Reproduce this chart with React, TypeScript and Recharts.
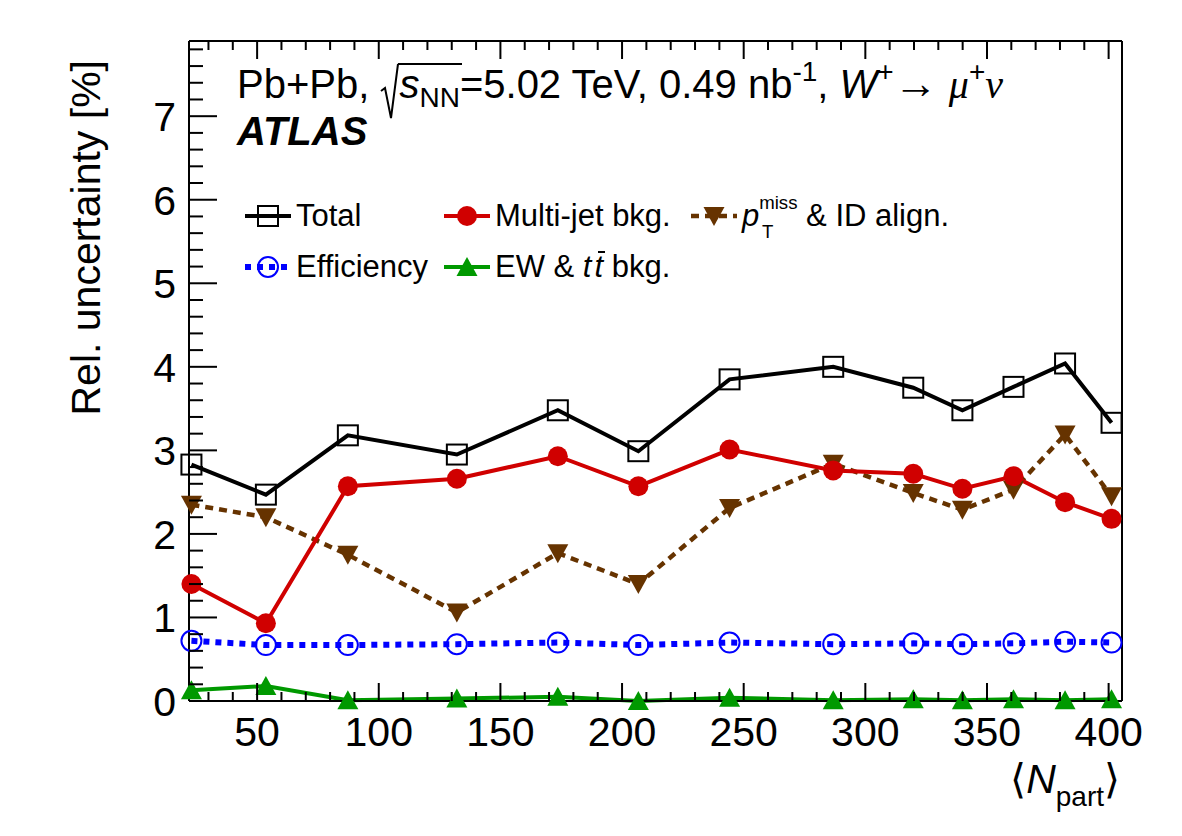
import React from "react";
import { Customized, Legend, Line, LineChart, XAxis, YAxis } from "recharts";

const FONT = '"Liberation Sans", Arial, Helvetica, sans-serif';

// <N_part> per centrality bin
const nPart = [23.0, 53.6, 87.3, 132.1, 173.6, 206.7, 244.2, 286.8, 319.7, 339.9, 360.9, 382.1, 401.2];

// relative uncertainties [%]
const totalUnc = [2.83, 2.47, 3.18, 2.95, 3.48, 2.99, 3.85, 4.0, 3.75, 3.48, 3.76, 4.04, 3.33];
const multiJetUnc = [1.4, 0.93, 2.57, 2.66, 2.93, 2.57, 3.01, 2.76, 2.72, 2.54, 2.69, 2.38, 2.18];
const ptMissUnc = [2.35, 2.2, 1.75, 1.06, 1.77, 1.4, 2.31, 2.84, 2.49, 2.29, 2.53, 3.19, 2.45];
const effUnc = [0.72, 0.67, 0.67, 0.68, 0.7, 0.67, 0.7, 0.68, 0.69, 0.68, 0.69, 0.71, 0.7];
const ewTtbarUnc = [0.13, 0.18, 0.01, 0.03, 0.05, 0.0, 0.04, 0.01, 0.02, 0.01, 0.02, 0.01, 0.02];

const xMajorTicks = [50, 100, 150, 200, 250, 300, 350, 400];
const yMajorTicks = [0, 1, 2, 3, 4, 5, 6, 7];
const X_DOMAIN: [number, number] = [22, 405.5];
const Y_DOMAIN: [number, number] = [0, 7.9];

// minor divisions: 10 on x, 0.2 on y
const xTicks: number[] = [];
for (let v = 30; v <= 400; v += 10) xTicks.push(v);
const yTicks: number[] = [];
for (let i = 0; i <= 39; i++) yTicks.push(Math.round(i * 2) / 10);

const data = nPart.map((n, i) => ({
  n,
  total: totalUnc[i],
  multijet: multiJetUnc[i],
  ptmiss: ptMissUnc[i],
  eff: effUnc[i],
  ew: ewTtbarUnc[i],
}));

const RED = "#d00000";
const BROWN = "#663300";
const BLUE = "#0000ff";
const GREEN = "#009900";

type Pt = { cx: number; cy: number };

const openSquare = ({ cx, cy }: Pt) => (
  <rect x={cx - 10} y={cy - 10} width={20} height={20} fill="none" stroke="#000" strokeWidth={2} />
);
const fullCircle = ({ cx, cy }: Pt) => <circle cx={cx} cy={cy} r={10} fill={RED} />;
const downTriangle = ({ cx, cy }: Pt) => (
  <polygon points={`${cx - 10.5},${cy - 9} ${cx + 10.5},${cy - 9} ${cx},${cy + 10}`} fill={BROWN} />
);
const openCircle = ({ cx, cy }: Pt) => (
  <circle cx={cx} cy={cy} r={10} fill="none" stroke={BLUE} strokeWidth={2} />
);
const upTriangle = ({ cx, cy }: Pt) => (
  <polygon points={`${cx - 10.5},${cy + 9} ${cx + 10.5},${cy + 9} ${cx},${cy - 10}`} fill={GREEN} />
);

const series = [
  { key: "ew", color: GREEN, width: 4, dash: undefined, marker: upTriangle },
  { key: "eff", color: BLUE, width: 6, dash: "6 6", marker: openCircle },
  { key: "ptmiss", color: BROWN, width: 4.5, dash: "8 6", marker: downTriangle },
  { key: "multijet", color: RED, width: 4, dash: undefined, marker: fullCircle },
  { key: "total", color: "#000", width: 4, dash: undefined, marker: openSquare },
];
const seriesByKey = Object.fromEntries(series.map((s) => [s.key, s]));

const isMajor = (v: number, step: number) => Math.abs(v / step - Math.round(v / step)) < 1e-6;

function XTick(props: any) {
  const { x, y, payload, side } = props;
  const v = payload.value as number;
  const major = isMajor(v, 50);
  const len = major ? 18 : 9;
  const dir = side === "bottom" ? -1 : 1;
  return (
    <g>
      <line x1={x} x2={x} y1={y} y2={y + dir * len} stroke="#000" strokeWidth={2} />
      {side === "bottom" && major && (
        <text x={x} y={y + 45} textAnchor="middle" fontSize={41} fontFamily={FONT} fill="#000">
          {v}
        </text>
      )}
    </g>
  );
}

function YTick(props: any) {
  const { x, y, payload, side } = props;
  const v = payload.value as number;
  const major = isMajor(v, 1);
  const len = major ? 28 : 14;
  const dir = side === "left" ? 1 : -1;
  return (
    <g>
      <line x1={x} x2={x + dir * len} y1={y} y2={y} stroke="#000" strokeWidth={2} />
      {side === "left" && major && (
        <text x={x - 13} y={y + 15} textAnchor="end" fontSize={41} fontFamily={FONT} fill="#000">
          {Math.round(v)}
        </text>
      )}
    </g>
  );
}

function AxisTitles() {
  return (
    <g fontFamily={FONT} fill="#000">
      <text transform="translate(100, 60) rotate(-90)" textAnchor="end" fontSize={41}>
        Rel. uncertainty [%]
      </text>
      <text x={1120} y={793} textAnchor="end" fontSize={41}>
        ⟨<tspan fontStyle="italic">N</tspan>
        <tspan fontSize={28} dy={13}>part</tspan>
        <tspan dy={-13}>⟩</tspan>
      </text>
    </g>
  );
}

const legendCols = [244, 443, 690];
const legendRows = [216, 267];

const small = { fontSize: "0.6em" };

const legendItems = [
  { key: "total", col: 0, row: 0, label: <>Total</> },
  { key: "multijet", col: 1, row: 0, label: <>Multi-jet bkg.</> },
  {
    key: "ptmiss",
    col: 2,
    row: 0,
    label: (
      <>
        <i>p</i>
        <span style={{ position: "relative", ...small }}>
          <span style={{ position: "relative", top: "-0.9em" }}>miss</span>
          <span style={{ position: "absolute", left: "0.15em", top: "0.65em" }}>T</span>
        </span>{" "}
        &amp; ID align.
      </>
    ),
  },
  { key: "eff", col: 0, row: 1, label: <>Efficiency</> },
  {
    key: "ew",
    col: 1,
    row: 1,
    label: (
      <>
        EW &amp; <i>t</i>
        <span style={{ position: "relative", marginLeft: 3 }}>
          <i>t</i>
          <span
            style={{
              position: "absolute",
              left: "0.12em",
              right: "-0.06em",
              top: "0.08em",
              borderTop: "2px solid #000",
            }}
          />
        </span>{" "}
        bkg.
      </>
    ),
  },
];

function LegendSample({ k }: { k: string }) {
  const s = seriesByKey[k];
  return (
    <svg width={48} height={30} style={{ overflow: "visible", flex: "none" }}>
      <line x1={1} x2={47} y1={15} y2={15} stroke={s.color} strokeWidth={s.width} strokeDasharray={s.dash} />
      {s.marker({ cx: 24, cy: 15 })}
    </svg>
  );
}

function LegendBlock() {
  return (
    <div style={{ position: "relative", fontFamily: FONT, fontSize: 31, color: "#000" }}>
      {legendItems.map((it) => (
        <div
          key={it.key}
          style={{
            position: "absolute",
            left: legendCols[it.col],
            top: legendRows[it.row] - 20,
            height: 40,
            display: "flex",
            alignItems: "center",
            whiteSpace: "nowrap",
          }}
        >
          <LegendSample k={it.key} />
          <span style={{ marginLeft: 4 }}>{it.label}</span>
        </div>
      ))}
    </div>
  );
}

const sup = { fontSize: "0.7em", position: "relative" as const, top: "-0.6em" };
const sub = { fontSize: "0.7em", position: "relative" as const, top: "0.3em" };

function Header() {
  const F = 40;
  return (
    <>
      <div
        style={{
          position: "absolute",
          left: 237,
          top: 95 - 0.8465 * F,
          fontSize: F,
          lineHeight: 1,
          fontFamily: FONT,
          whiteSpace: "nowrap",
          color: "#000",
        }}
      >
        Pb+Pb,{" "}
        <span style={{ position: "relative", paddingLeft: 19 }}>
          <svg
            width={20}
            height={60}
            style={{ position: "absolute", left: 0, top: 2, overflow: "visible" }}
          >
            <polyline points="1,27 5,24 11,54 18,0" fill="none" stroke="#000" strokeWidth={2} />
          </svg>
          <span
            style={{ position: "absolute", left: 18, right: -2, top: 1, borderTop: "2px solid #000" }}
          />
          <i>s</i>
          <span style={sub}>NN</span>
        </span>
        =5.02 TeV, 0.49 nb<span style={sup}>-1</span>, <i>W</i>
        <span style={sup}>+</span>
        <span style={{ fontSize: "1.1em" }}>→</span>{" "}
        <i style={{ fontFamily: '"Liberation Serif", serif' }}>μ</i>
        <span style={sup}>+</span>
        <i style={{ fontFamily: '"Liberation Serif", serif' }}>ν</i>
      </div>
      <div
        style={{
          position: "absolute",
          left: 237,
          top: 145 - 0.8465 * F,
          fontSize: F,
          lineHeight: 1,
          fontFamily: FONT,
          fontWeight: "bold",
          fontStyle: "italic",
          color: "#000",
        }}
      >
        ATLAS
      </div>
    </>
  );
}

export default function App() {
  return (
    <div style={{ position: "absolute", left: 0, top: 0, width: 1182, height: 836, background: "#fff" }}>
      <LineChart width={1182} height={836} data={data} margin={{ top: 31, right: 50, bottom: 75, left: 89 }}>
        <XAxis
          xAxisId="b"
          dataKey="n"
          type="number"
          domain={X_DOMAIN}
          ticks={xTicks}
          interval={0}
          tickSize={0}
          tickMargin={0}
          tickLine={false}
          axisLine={{ stroke: "#000", strokeWidth: 2 }}
          tick={<XTick side="bottom" />}
          height={60}
        />
        <XAxis
          xAxisId="t"
          orientation="top"
          dataKey="n"
          type="number"
          domain={X_DOMAIN}
          ticks={xTicks}
          interval={0}
          tickSize={0}
          tickMargin={0}
          tickLine={false}
          axisLine={{ stroke: "#000", strokeWidth: 2 }}
          tick={<XTick side="top" />}
          height={10}
        />
        <YAxis
          yAxisId="l"
          type="number"
          domain={Y_DOMAIN}
          ticks={yTicks}
          interval={0}
          tickSize={0}
          tickMargin={0}
          tickLine={false}
          axisLine={{ stroke: "#000", strokeWidth: 2 }}
          tick={<YTick side="left" />}
          width={100}
        />
        <YAxis
          yAxisId="r"
          orientation="right"
          type="number"
          domain={Y_DOMAIN}
          ticks={yTicks}
          interval={0}
          tickSize={0}
          tickMargin={0}
          tickLine={false}
          axisLine={{ stroke: "#000", strokeWidth: 2 }}
          tick={<YTick side="right" />}
          width={10}
        />
        {series.map((s) => (
          <Line
            key={s.key}
            xAxisId="b"
            yAxisId="l"
            type="linear"
            dataKey={s.key}
            stroke={s.color}
            strokeWidth={s.width}
            strokeDasharray={s.dash}
            isAnimationActive={false}
            activeDot={false}
            dot={(p: any) => <g key={`${s.key}-${p.index}`}>{s.marker({ cx: p.cx, cy: p.cy })}</g>}
          />
        ))}
        <Customized component={AxisTitles} />
        <Legend
          layout="horizontal"
          verticalAlign="middle"
          align="center"
          wrapperStyle={{ position: "absolute", left: 0, top: 0, width: 0, height: 0 }}
          content={() => <LegendBlock />}
        />
      </LineChart>
      <Header />
    </div>
  );
}
